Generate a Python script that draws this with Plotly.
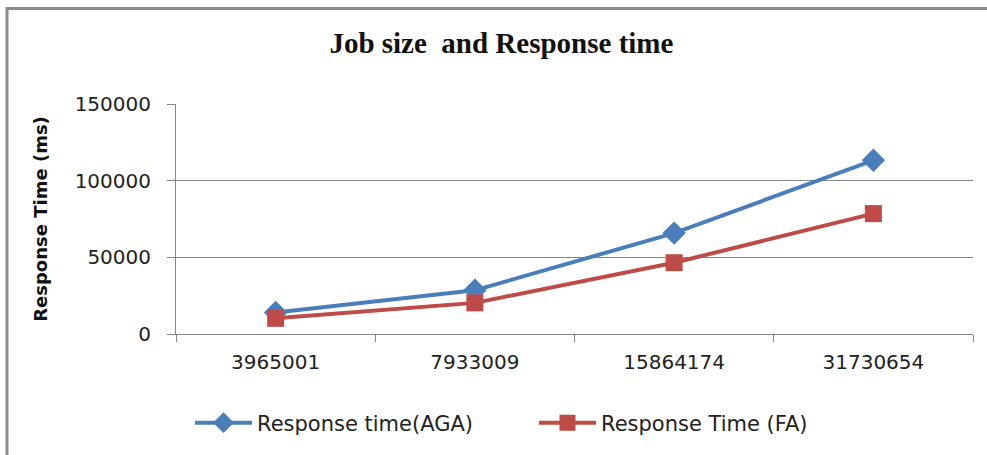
import plotly.graph_objects as go

categories = ["3965001", "7933009", "15864174", "31730654"]
aga_values = [14000, 28500, 65800, 113300]
fa_values = [10200, 20300, 46500, 78500]
y_ticks = [0, 50000, 100000, 150000]

W, H = 987, 455
L, R, T, B = 176, 14, 104, 121
pw, ph = W - L - R, H - T - B

fig = go.Figure()
fig.add_trace(go.Scatter(
    x=categories, y=aga_values, mode="lines+markers", name="Response time(AGA)",
    line=dict(color="#4A7EBB", width=4),
    marker=dict(symbol="diamond", size=18, color="#4A7EBB"),
))
fig.add_trace(go.Scatter(
    x=categories, y=fa_values, mode="lines+markers", name="Response Time (FA)",
    line=dict(color="#BE4B48", width=4),
    marker=dict(symbol="square", size=17, color="#BE4B48"),
))

grey = "#868686"
fig.update_layout(
    width=W, height=H,
    margin=dict(l=L, r=R, t=T, b=B, autoexpand=False),
    paper_bgcolor="white", plot_bgcolor="white",
    font=dict(family="DejaVu Sans", size=20, color="#222222"),
    title=dict(text="<b>Job size  and Response time</b>",
               font=dict(family="Liberation Serif", size=29, color="#111111"),
               xref="container", x=0.508, xanchor="center",
               yref="container", y=1 - 43 / H, yanchor="middle"),
    showlegend=True,
    legend=dict(orientation="h", xref="container", x=190 / W, xanchor="left",
                yref="container", y=1 - 423 / H, yanchor="middle",
                itemwidth=57, entrywidth=272, font=dict(size=21), traceorder="normal",
                bgcolor="rgba(0,0,0,0)"),
    xaxis=dict(type="category", showgrid=False, showline=True, linecolor=grey, linewidth=1,
               ticks="outside", tickson="boundaries", ticklen=7, tickcolor=grey,
               ticklabelstandoff=10, range=[-0.5, 3.5], fixedrange=True),
    yaxis=dict(range=[0, 150000], tickvals=y_ticks, showgrid=True, gridcolor=grey, gridwidth=1,
               showline=True, linecolor=grey, linewidth=1, ticks="outside", ticklen=8,
               tickcolor=grey, ticklabelstandoff=12, zeroline=False, tickformat="d",
               title=dict(text="<b>Response Time (ms)</b>", font=dict(size=18, color="#111111"),
                          standoff=22)),
    shapes=[
        dict(type="line", xref="paper", yref="paper",
             x0=(6 - L) / pw, x1=(W + 5 - L) / pw,
             y0=(H - B - 8.5) / ph, y1=(H - B - 8.5) / ph,
             line=dict(color="#8C8C8C", width=3)),
        dict(type="line", xref="paper", yref="paper",
             x0=(7 - L) / pw, x1=(7 - L) / pw,
             y0=(H - B - 7) / ph, y1=(H - B - H - 5) / ph,
             line=dict(color="#8C8C8C", width=3)),
    ],
)

fig.write_html("out.html", config={"displayModeBar": False},
               post_script="document.body.style.margin='0';document.body.style.overflow='hidden';")
